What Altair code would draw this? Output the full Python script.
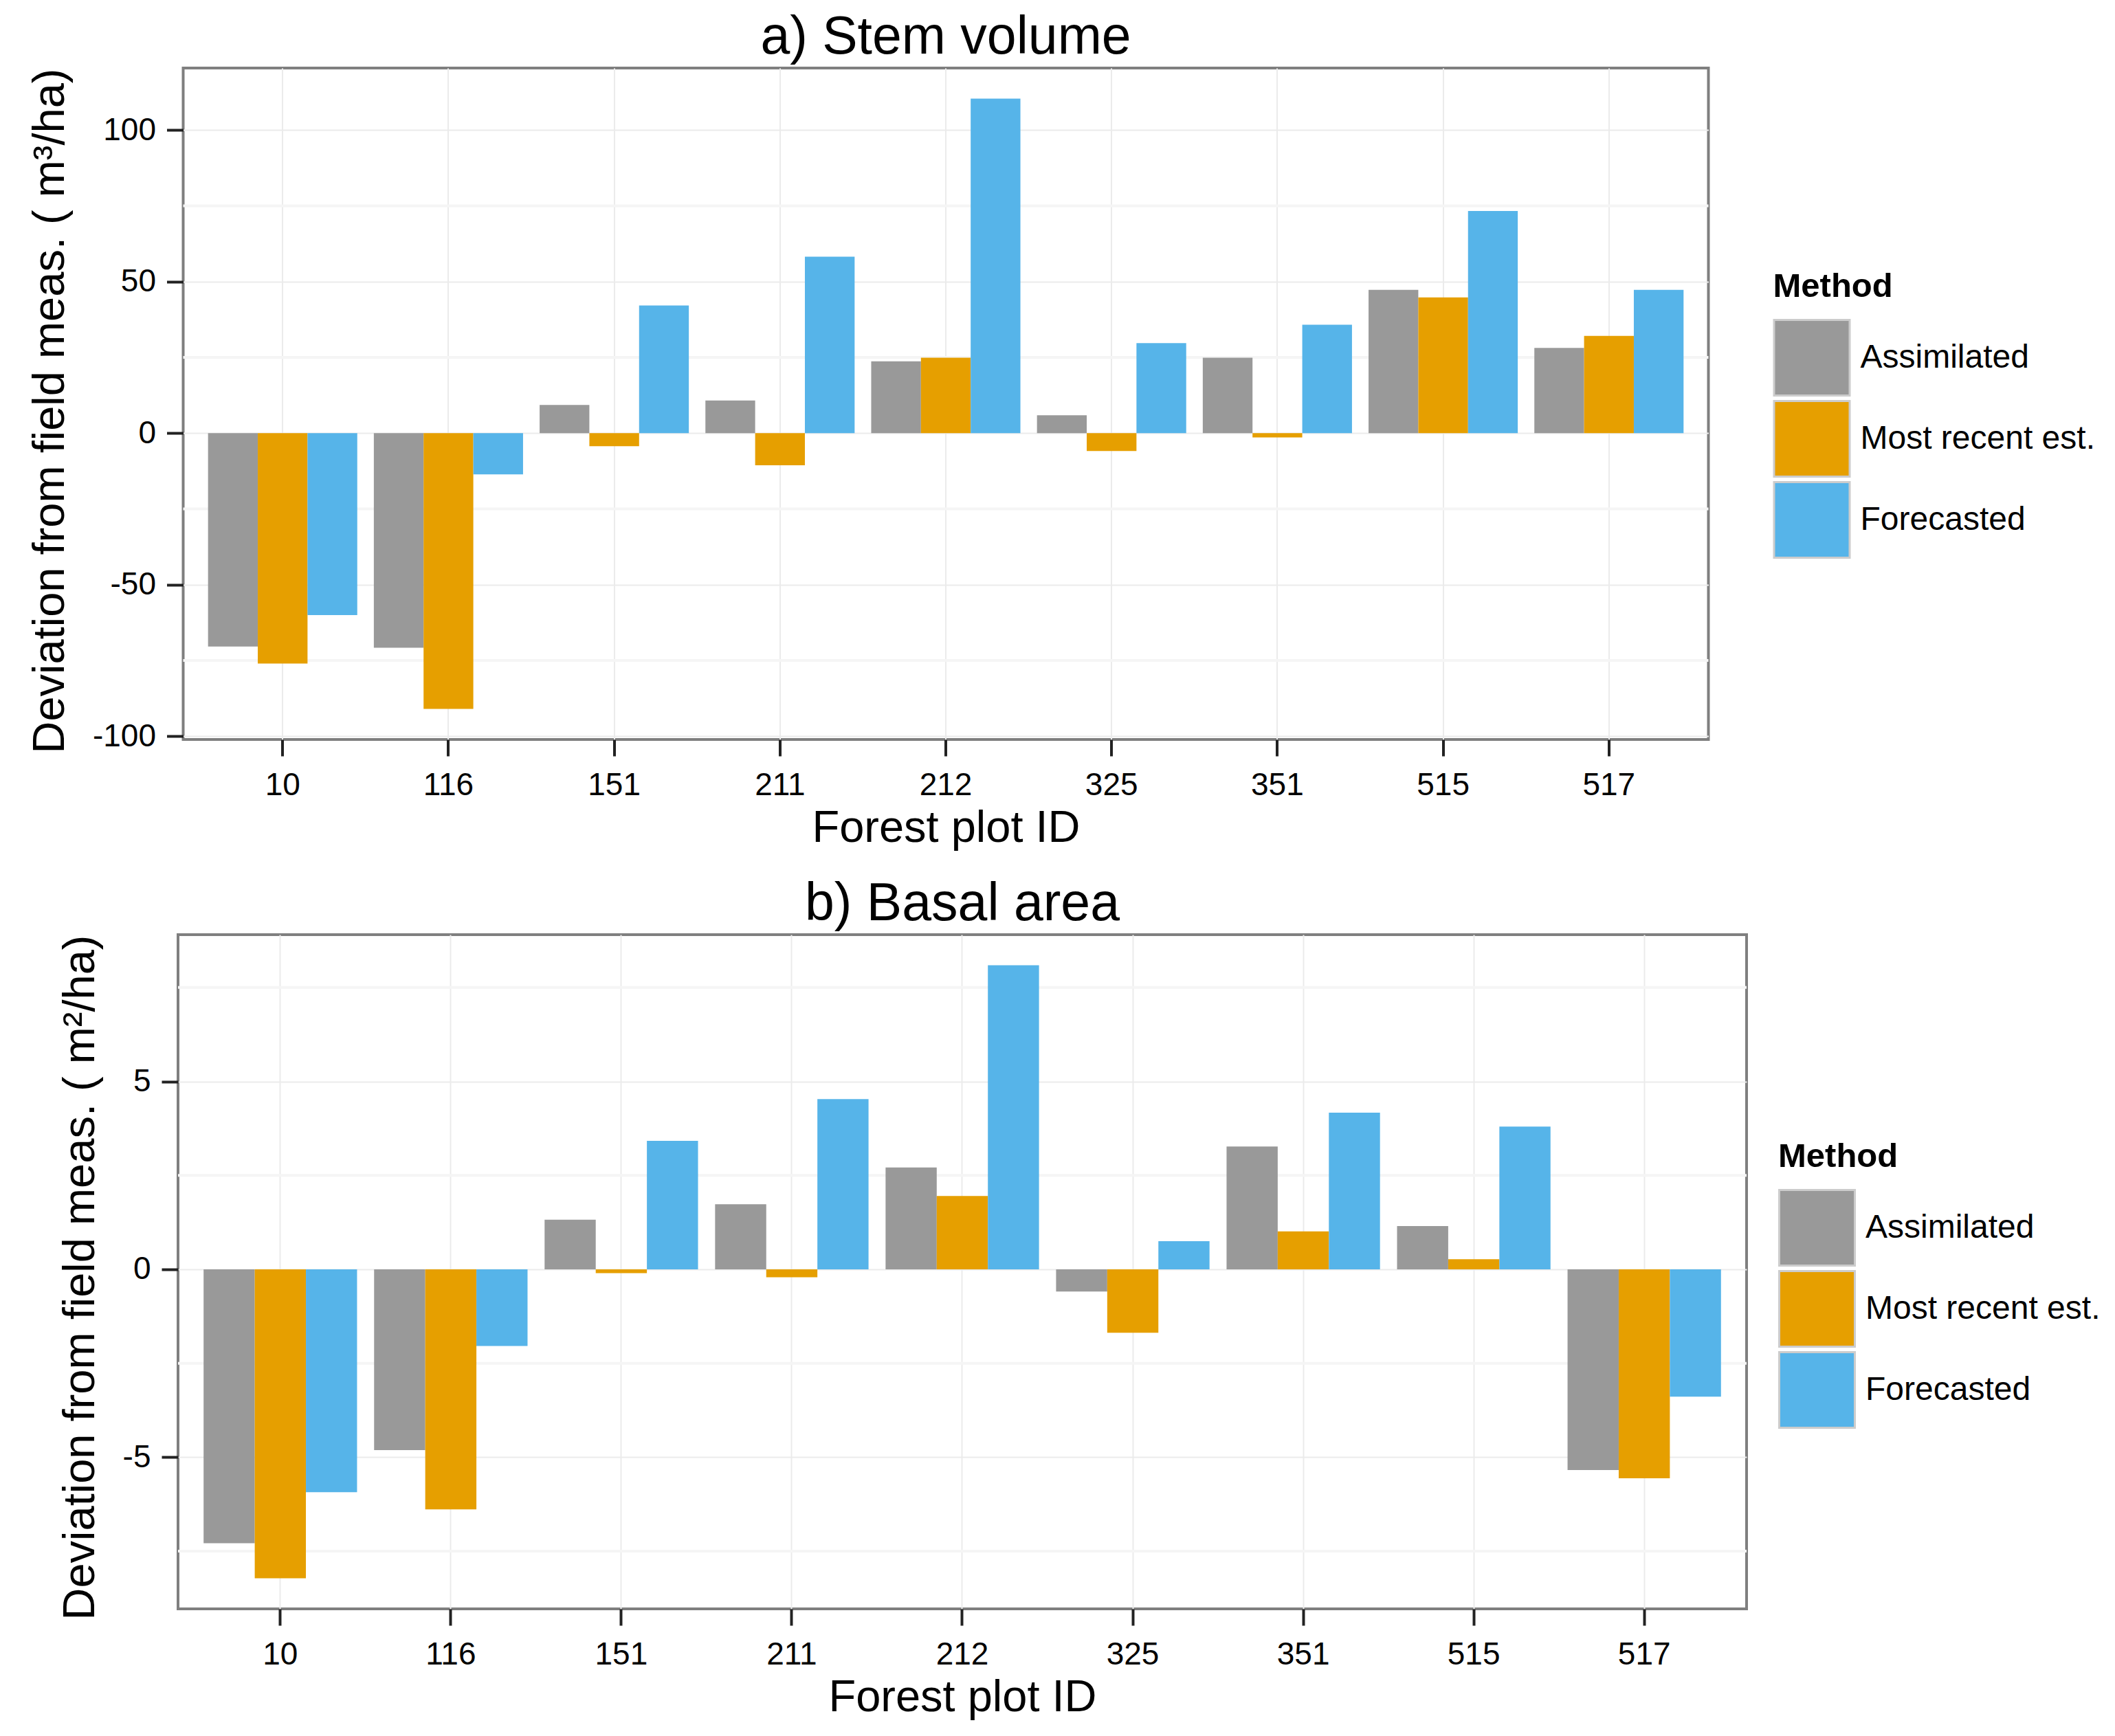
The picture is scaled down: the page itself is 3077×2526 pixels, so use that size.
import altair as alt
import pandas as pd

plots = ["10", "116", "151", "211", "212", "325", "351", "515", "517"]
methods = ["Assimilated", "Most recent est.", "Forecasted"]
colors = ["#999999", "#E69F00", "#56B4E9"]

# a) Stem volume (m3/ha)
vol_assim = [-70.4, -70.8, 9.3, 10.8, 23.7, 5.9, 24.9, 47.3, 28.1]
vol_recent = [-76.0, -91.0, -4.3, -10.6, 24.9, -5.9, -1.4, 44.8, 32.1]
vol_fore = [-60.0, -13.6, 42.1, 58.2, 110.4, 29.7, 35.8, 73.3, 47.3]
vol_ticks = [-100, -50, 0, 50, 100]
vol_minor = [-75, -25, 25, 75]

# b) Basal area (m2/ha)
ba_assim = [-7.29, -4.81, 1.32, 1.73, 2.71, -0.59, 3.27, 1.15, -5.34]
ba_recent = [-8.22, -6.39, -0.10, -0.21, 1.95, -1.69, 1.01, 0.27, -5.56]
ba_fore = [-5.93, -2.04, 3.42, 4.53, 8.09, 0.75, 4.17, 3.80, -3.39]
ba_ticks = [-5, 0, 5]
ba_minor = [-7.5, -2.5, 2.5, 7.5]

FONT = "Liberation Sans"
HYPHEN_LABELS = "datum.value < 0 ? '-' + abs(datum.value) : '' + datum.value"


def panel(title, assim, recent, fore, ticks, minor, ytitle, width, height, lx, ly):
    rows = []
    for m, vals in zip(methods, [assim, recent, fore]):
        for p, v in zip(plots, vals):
            rows.append({"plot": p, "method": m, "value": v})
    df = pd.DataFrame(rows)
    lo = min(0, df["value"].min())
    hi = max(0, df["value"].max())
    pad = (hi - lo) * 0.05
    yscale = alt.Scale(domain=[lo - pad, hi + pad], nice=False, zero=False)
    yaxis = alt.Axis(values=ticks, grid=True, domain=False, labelExpr=HYPHEN_LABELS,
                     labelPadding=16, titlePadding=28, titleAnchor="end")

    minor_layer = alt.Chart(pd.DataFrame({"v": minor})).mark_rule(
        color="#F5F5F5", strokeWidth=4
    ).encode(y=alt.Y("v:Q", scale=yscale, title=ytitle, axis=yaxis))

    bars = alt.Chart(df).mark_bar().encode(
        x=alt.X(
            "plot:N",
            sort=plots,
            title="Forest plot ID",
            scale=alt.Scale(paddingInner=0.1, paddingOuter=0.15),
            axis=alt.Axis(
                labelAngle=0, grid=True, bandPosition=0.5, domain=False,
                labelPadding=20, titlePadding=8,
            ),
        ),
        xOffset=alt.XOffset("method:N", sort=methods),
        y=alt.Y("value:Q", scale=yscale, title=ytitle, axis=yaxis),
        color=alt.Color(
            "method:N",
            sort=methods,
            scale=alt.Scale(domain=methods, range=colors),
            legend=alt.Legend(title="Method", orient="none", legendX=lx, legendY=ly,
                              rowPadding=-12, labelLimit=1000),
        ),
    )
    return alt.layer(minor_layer, bars).properties(
        width=width,
        height=height,
        title=alt.TitleParams(
            title, fontSize=77, font=FONT, fontWeight="normal", anchor="middle",
            frame="group", offset=5, color="#000000",
        ),
    )


pa = panel("a) Stem volume", vol_assim, vol_recent, vol_fore, vol_ticks, vol_minor,
           "Deviation from field meas. ( m³/ha)", 2219, 977, 2313, 294)
pb = panel("b) Basal area", ba_assim, ba_recent, ba_fore, ba_ticks, ba_minor,
           "Deviation from field meas. ( m²/ha)", 2282, 981, 2328, 299)

chart = alt.vconcat(pa, pb, spacing=36, center=True).resolve_scale(
    x="independent", y="independent", color="independent", xOffset="independent"
).resolve_legend(color="independent").properties(
    padding={"left": 30, "top": 6, "right": 0, "bottom": 0}
).configure_view(
    stroke="#7F7F7F", strokeWidth=4
).configure_axis(
    labelFont=FONT, titleFont=FONT, labelFontSize=46, titleFontSize=65,
    labelColor="#000000", titleColor="#000000", titleFontWeight="normal",
    tickColor="#222222", tickWidth=4, tickSize=24,
    gridColor="#EBEBEB", gridWidth=2,
).configure_legend(
    titleFont=FONT, labelFont=FONT, titleFontSize=49, titleFontWeight="bold",
    labelFontSize=48, titleColor="#000000", labelColor="#000000",
    symbolType="square", symbolSize=12100, symbolStrokeColor="#CCCCCC",
    symbolStrokeWidth=3, symbolOpacity=1, labelOffset=14, titlePadding=22,
)

chart.save("out.html", embed_options={"renderer": "svg", "actions": False})
